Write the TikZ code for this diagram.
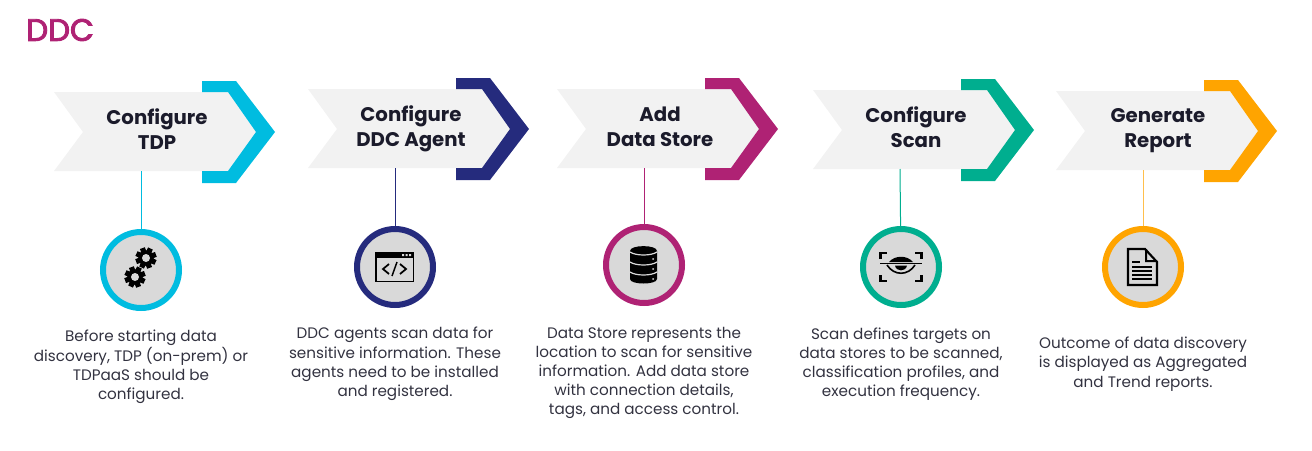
\documentclass[tikz,border=0pt]{standalone}
\usepackage{fontspec}
\setmainfont{Poppins}
\newfontfamily\titlefont[FakeBold=3]{Poppins}
\usetikzlibrary{calc}
\definecolor{tdpblue}{HTML}{00BCE0}
\definecolor{agentnavy}{HTML}{252B7D}
\definecolor{storepink}{HTML}{AF2274}
\definecolor{scangreen}{HTML}{00AE8F}
\definecolor{reportorange}{HTML}{FFA400}
\definecolor{bandgrey}{HTML}{F2F2F2}
\definecolor{discgrey}{HTML}{D9D9D9}
\definecolor{inkdark}{HTML}{1B1B2B}
\tikzstyle{title}=[anchor=west, inner sep=0pt, font=\titlefont\fontsize{23.2}{28}\selectfont, text=storepink]
\tikzstyle{head}=[align=center, inner sep=0pt, text=inkdark, font=\fontsize{14.8}{18.6}\selectfont\bfseries]
\tikzstyle{body}=[align=center, inner sep=0pt, text=inkdark!90, font=\fontsize{11.4}{14.4}\selectfont]
\tikzstyle{disc}=[circle, draw, line width=4.5pt, fill=discgrey, inner sep=0pt, minimum size=57pt]
\tikzstyle{stem}=[line width=.75pt]
\newcommand{\stepshape}[3]{
  \fill [bandgrey, shift={(#1,#2)}] (54,92) -- (228,92) -- (256,132) -- (228,171) -- (54,171) -- (83,132) -- cycle;
  \fill [#3, shift={(#1,#2)}] (202,81) -- (236,81) -- (275,132) -- (236,183) -- (202,183) -- (202,171) -- (228,171) -- (256,132) -- (228,92) -- (202,92) -- cycle;
}
\newcommand{\gearicon}[2]{
  \fill [black] (#1,#2) circle (7.8);
  \foreach \a in {0,45,...,315} {
    \fill [black, shift={(#1,#2)}, rotate=\a+20] (6,-2.6) rectangle (10.5,2.6);
  }
  \fill [discgrey] (#1,#2) circle (4);
}
\begin{document}
\begin{tikzpicture}[x=.75pt, y=-.75pt]
\useasboundingbox (0,0) rectangle (1312,450);

\node (title) [title] at (26,30) {DDC};

\stepshape{0}{0}{tdpblue}
\stepshape{254}{-3}{agentnavy}
\stepshape{503}{-3}{storepink}
\stepshape{759}{-2}{scangreen}
\stepshape{1002}{-1}{reportorange}

\node (tdp) [head] at (157,129) {Configure\\TDP};
\node (agent) [head] at (411,128.5) {Configure\\DDC Agent};
\node (store) [head] at (660,127) {Add\\Data Store};
\node (scan) [head] at (916,127) {Configure\\Scan};
\node (report) [head] at (1158,130.5) {Generate\\Report};

\coordinate (tdpfoot) at (141,171);
\coordinate (agentfoot) at (395,168);
\coordinate (storefoot) at (644,168);
\coordinate (scanfoot) at (900,169);
\coordinate (reportfoot) at (1143,170);

\node (tdpicon) [disc, draw=tdpblue] at (141,270) {};
\node (agenticon) [disc, draw=agentnavy] at (395,267) {};
\node (storeicon) [disc, draw=storepink] at (644,265) {};
\node (scanicon) [disc, draw=scangreen] at (901,267) {};
\node (reporticon) [disc, draw=reportorange] at (1143,267) {};

\draw [stem, draw=tdpblue] (tdpfoot) -- (tdpicon);
\draw [stem, draw=agentnavy] (agentfoot) -- (agenticon);
\draw [stem, draw=storepink] (storefoot) -- (storeicon);
\draw [stem, draw=scangreen] (scanfoot) -- (scanicon);
\draw [stem, draw=reportorange!70] (reportfoot) -- (reporticon);

\gearicon{146}{258}
\gearicon{135}{277}

\fill [black] (375,252) rectangle (414,282);
\fill [discgrey] (376.5,258) rectangle (412.5,280.5);
\fill [discgrey] (402,254) rectangle (404,256) (405.5,254) rectangle (407.5,256) (409,254) rectangle (411,256);
\draw [black, line width=1.3pt] (389,264) -- (383,269) -- (389,274);
\draw [black, line width=1.3pt] (400,264) -- (406,269) -- (400,274);
\draw [black, line width=1.1pt] (397,262) -- (392,276);

\fill [black] (630,251) .. controls (630,244.5) and (657,244.5) .. (657,251) -- (657,279) .. controls (657,285) and (630,285) .. (630,279) -- cycle;
\draw [discgrey, line width=.9pt] (630,252) .. controls (636,256) and (651,256) .. (657,252);
\draw [discgrey, line width=.9pt] (630,262) .. controls (636,266) and (651,266) .. (657,262);
\draw [discgrey, line width=.9pt] (630,272) .. controls (636,276) and (651,276) .. (657,272);
\fill [discgrey] (653,259) circle (1) (653,269) circle (1) (653,279) circle (1);

\draw [black, line width=1.8pt] (880.5,259) -- (880.5,253) -- (887,253);
\draw [black, line width=1.8pt] (915,253) -- (921.5,253) -- (921.5,259);
\draw [black, line width=1.8pt] (880.5,275) -- (880.5,281) -- (887,281);
\draw [black, line width=1.8pt] (915,281) -- (921.5,281) -- (921.5,275);
\draw [black, line width=1.2pt] (880,263.5) -- (922,263.5);
\fill [black] (889,262) .. controls (895,255) and (907,255) .. (913,262) -- cycle;
\draw [black, line width=1.2pt] (887,265) .. controls (894,276) and (908,276) .. (915,265);
\fill [black] (895,265.5) -- (907,265.5) .. controls (906,272) and (896,272) .. (895,265.5) -- cycle;

\draw [black, line width=1.6pt, fill=discgrey] (1128,249) -- (1145,249) -- (1157,262) -- (1157,285) -- (1128,285) -- cycle;
\fill [black] (1145,249) -- (1145,262) -- (1157,262) -- (1157,260) -- (1147,260) -- (1147,249) -- cycle;
\draw [black, line width=.8pt] (1132,262) -- (1140,262);
\draw [black, line width=1pt] (1132,267) -- (1152,267);
\draw [black, line width=1pt] (1132,271) -- (1152,271);
\draw [black, line width=1pt] (1132,275) -- (1152,275);
\draw [black, line width=1pt] (1132,279) -- (1152,279);

\node (tdptext) [body] at (141,367) {Before starting data\\discovery, TDP (on-prem) or\\TDPaaS should be\\configured.};
\node (agenttext) [body] at (395,364) {DDC agents scan data for\\sensitive information. These\\agents need to be installed\\and registered.};
\node (storetext) [body] at (644,373) {Data Store represents the\\location to scan for sensitive\\information. Add data store\\with connection details,\\tags, and access control.};
\node (scantext) [body] at (901,364) {Scan defines targets on\\data stores to be scanned,\\classification profiles, and\\execution frequency.};
\node (reporttext) [body] at (1143,364) {Outcome of data discovery\\is displayed as Aggregated\\and Trend reports.};

\end{tikzpicture}
\end{document}
